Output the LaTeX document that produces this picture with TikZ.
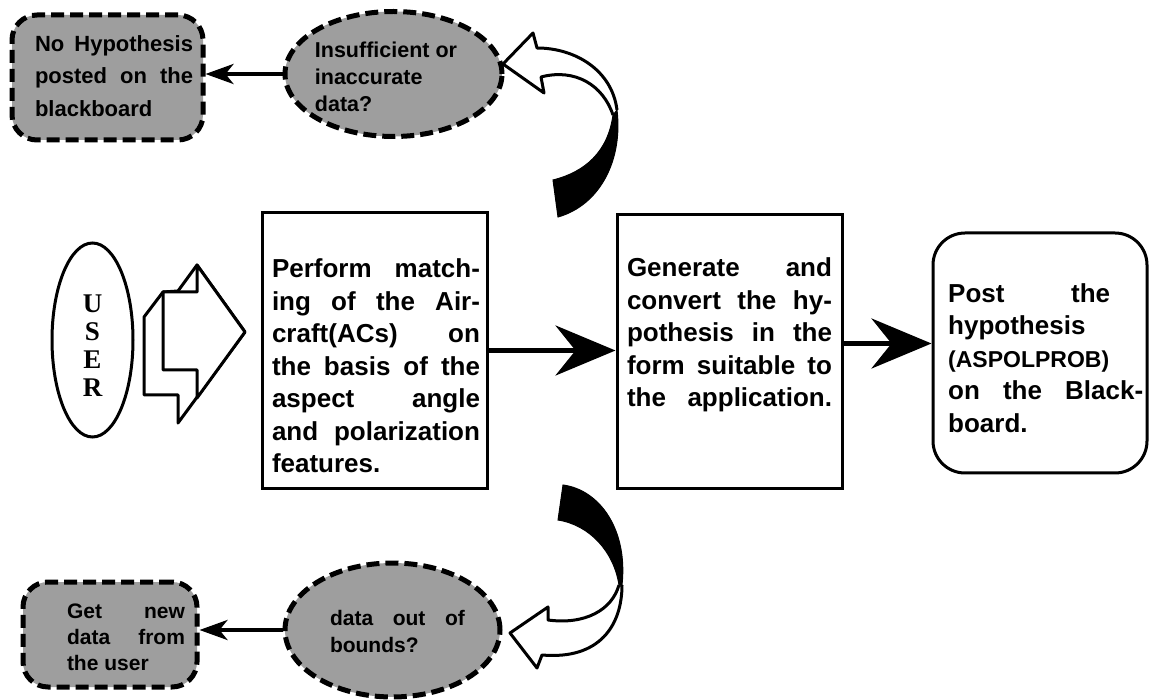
\documentclass[tikz,border=0pt]{standalone}
\usepackage{fontspec}
\setmainfont{Liberation Sans}
\newfontfamily\userfont{Liberation Serif}
\usetikzlibrary{arrows.meta,shapes.geometric}

\begin{document}
\begin{tikzpicture}[x=1pt,y=-1pt,
  procbox/.style={draw,line width=3pt,inner sep=0pt},
  halftone/.style={draw,line width=5pt,dash pattern=on 13pt off 6pt,fill=black!38,inner sep=0pt},
  bodytext/.style={font=\bfseries\fontsize{26}{32.5}\selectfont,align=left,inner sep=0pt},
  smalltext/.style={font=\bfseries\fontsize{21.5}{27}\selectfont,align=left,inner sep=0pt},
  bigarrow/.style={line width=5pt,-{Stealth[length=60pt,width=50pt,inset=20pt]}},
  thinarrow/.style={line width=4pt,-{Stealth[length=28pt,width=20pt,inset=8pt]}},
  outline/.style={line width=3pt,line join=round}]

\useasboundingbox (0,0) rectangle (1149,700);

% --- main process boxes ---
\node[procbox,minimum width=225pt,minimum height=275pt] (match) at (374.5,350.5) {};
\node[procbox,minimum width=225pt,minimum height=273pt] (gen) at (729.5,351.5) {};
\node[procbox,rounded corners=32pt,minimum width=214pt,minimum height=240pt] (post) at (1040,353) {};

\node[bodytext] (matchtxt) at (376,366) {%
  \makebox[208pt][s]{Perform match-}\\
  \makebox[208pt][s]{ing of the Air-}\\
  \makebox[208pt][s]{craft(ACs) on}\\
  \makebox[208pt][s]{the basis of the}\\
  \makebox[208pt][s]{aspect angle}\\
  \makebox[208pt][s]{and polarization}\\
  features.};

\node[bodytext] (gentxt) at (729.5,335) {%
  \makebox[205pt][s]{Generate and}\\
  \makebox[205pt][s]{convert the hy-}\\
  \makebox[205pt][s]{pothesis in the}\\
  \makebox[205pt][s]{form suitable to}\\
  \makebox[205pt][s]{the application.}};

\node[bodytext,anchor=west] (posttxt) at (948,358) {%
  \makebox[162pt][s]{Post the}\\
  hypothesis\\
  {\fontsize{23}{32.5}\selectfont (ASPOLPROB)}\\
  \makebox[195pt][s]{on the Black-}\\
  board.};

% --- user and stacked input arrow ---
\node[draw,ellipse,line width=3pt,minimum width=81pt,minimum height=194pt,inner sep=0pt] (user) at (92.5,340) {};
\node[font=\userfont\bfseries\fontsize{27}{28}\selectfont,align=center,inner sep=0pt] (usertxt) at (92.5,346) {U\\S\\E\\R};

\draw[outline,fill=white] (144,317) -- (163,292) -- (178,291) -- (197,265) -- (245,332)
  -- (178,423) -- (178,395) -- (144,395) -- cycle;
\draw[outline,fill=white] (163,292) -- (197,292) -- (197,265) -- (245,332) -- (197,398)
  -- (197,370) -- (163,370) -- cycle;

% --- dashed halftone decision shapes ---
\node[halftone,rounded corners=25pt,minimum width=191pt,minimum height=125pt] (nohyp) at (107.5,77.5) {};
\node[halftone,ellipse,minimum width=217pt,minimum height=125pt] (insuf) at (393.5,74) {};
\node[halftone,rounded corners=25pt,minimum width=174pt,minimum height=105pt] (getnew) at (110,634.5) {};
\node[halftone,ellipse,minimum width=215pt,minimum height=134pt] (bounds) at (392.5,630) {};

\node[font=\bfseries\fontsize{22}{32.5}\selectfont,align=left,inner sep=0pt] (nohyptxt) at (114,76) {%
  \makebox[158pt][s]{No Hypothesis}\\
  \makebox[158pt][s]{posted on the}\\
  blackboard};
\node[smalltext] (insuftxt) at (386,76.5) {Insufficient or\\inaccurate\\data?};
\node[font=\bfseries\fontsize{21}{26}\selectfont,align=left,inner sep=0pt] (getnewtxt) at (126,637.5) {%
  \makebox[118pt][s]{Get new}\\
  \makebox[118pt][s]{data from}\\
  the user};
\node[font=\bfseries\fontsize{21}{27}\selectfont,align=left,inner sep=0pt] (boundstxt) at (397.5,631.5) {%
  \makebox[135pt][s]{data out of}\\
  bounds?};

% --- connectors ---
\draw[bigarrow] (match.east) -- (match.east -| gen.west);
\draw[bigarrow] ([yshift=8pt]gen.east) -- ([yshift=8pt]gen.east -| post.west);
\draw[thinarrow] (insuf.west) -- (insuf.west -| nohyp.east);
\draw[thinarrow] (bounds.west) -- (bounds.west -| getnew.east);

% --- twisted ribbon arrow, upper ---
\filldraw[line width=1pt] (553,180) -- (558,217) .. controls (600,205) and (623,160) .. (617,110)
  -- (613,115) .. controls (608,152) and (585,172) .. (553,180) -- cycle;
\draw[outline] (617,110) .. controls (612,70) and (575,48) .. (537,48) -- (533,33) -- (503,64)
  -- (544,93) -- (541,77) .. controls (575,68) and (603,85) .. (613,115);

% --- twisted ribbon arrow, lower ---
\filldraw[line width=1pt] (563,485) .. controls (600,490) and (628,530) .. (622,585)
  -- (619,585) .. controls (614,552) and (590,525) .. (558,520) -- cycle;
\draw[outline] (622,585) .. controls (622,625) and (600,660) .. (542,655) -- (537,668) -- (510,633)
  -- (548,607) -- (548,620) .. controls (585,625) and (612,610) .. (619,585);

\end{tikzpicture}
\end{document}
